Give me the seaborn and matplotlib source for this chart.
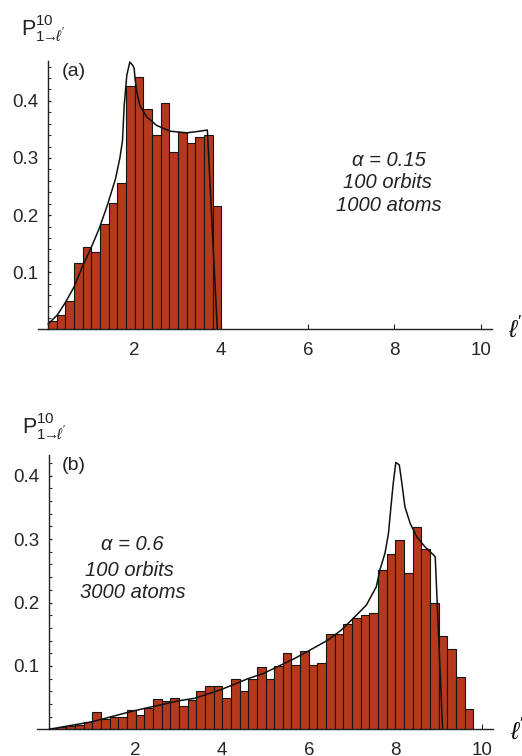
import numpy as np
import pandas as pd
import matplotlib
matplotlib.use("Agg")
import matplotlib.pyplot as plt
from matplotlib.ticker import MultipleLocator
import seaborn as sns

# ---------------- data ----------------
bin_width = 0.2

# panel (a): alpha = 0.15
a_heights = [0.015, 0.025, 0.050, 0.116, 0.145, 0.135, 0.185, 0.221, 0.256, 0.426,
             0.441, 0.386, 0.340, 0.396, 0.311, 0.345, 0.326, 0.336, 0.341, 0.216]
a_curve_x = [0.0, 0.215, 0.41, 0.60, 0.79, 0.985, 1.18, 1.37, 1.56, 1.66, 1.72, 1.76,
             1.82, 1.89, 1.96, 1.99, 2.01, 2.05, 2.12, 2.28, 2.51, 2.82, 3.20, 3.51,
             3.68, 3.91]
a_curve_y = [0.009, 0.025, 0.048, 0.074, 0.109, 0.141, 0.176, 0.217, 0.264, 0.300,
             0.330, 0.392, 0.445, 0.468, 0.462, 0.457, 0.439, 0.416, 0.392, 0.372,
             0.357, 0.347, 0.344, 0.347, 0.349, 0.0]

# panel (b): alpha = 0.6
b_heights = [0.002, 0.004, 0.005, 0.007, 0.012, 0.028, 0.016, 0.019, 0.020, 0.030,
             0.023, 0.033, 0.048, 0.045, 0.050, 0.037, 0.046, 0.061, 0.068, 0.068,
             0.050, 0.079, 0.061, 0.079, 0.099, 0.079, 0.100, 0.120, 0.102, 0.123,
             0.101, 0.104, 0.150, 0.150, 0.166, 0.176, 0.180, 0.184, 0.252, 0.277,
             0.298, 0.247, 0.319, 0.285, 0.199, 0.147, 0.127, 0.082, 0.032]
b_curve_x = [0.0, 1.0, 1.95, 3.0, 3.37, 3.95, 4.6, 4.95, 5.68, 5.95, 6.45, 6.76, 7.07,
             7.33, 7.56, 7.64, 7.76, 7.84, 7.89, 7.95, 8.01, 8.09, 8.15, 8.22, 8.34,
             8.49, 8.68, 8.88, 8.92, 9.09]
b_curve_y = [0.0, 0.012, 0.029, 0.045, 0.049, 0.062, 0.080, 0.088, 0.112, 0.122,
             0.141, 0.157, 0.178, 0.196, 0.225, 0.251, 0.278, 0.309, 0.346, 0.388,
             0.421, 0.417, 0.388, 0.351, 0.325, 0.304, 0.288, 0.275, 0.272, 0.0]

x_ticks = [2, 4, 6, 8, 10]
y_ticks = [0.1, 0.2, 0.3, 0.4]
texts_a = ["\u03b1 = 0.15", "100 orbits", "1000 atoms"]
texts_b = ["\u03b1 = 0.6", "100 orbits", "3000 atoms"]

# ---------------- style ----------------
sns.set_style("ticks")
plt.rcParams["font.family"] = ["Liberation Sans", "DejaVu Sans"]
plt.rcParams["mathtext.fontset"] = "custom"
plt.rcParams["mathtext.rm"] = "Liberation Sans"
plt.rcParams["mathtext.it"] = "Liberation Sans:italic"
plt.rcParams["mathtext.fallback"] = "stixsans"

BAR = "#b5391c"
W, H = 522, 756
fig = plt.figure(figsize=(W / 100, H / 100), dpi=100)


def px_axes(x0_px, unit_px_x, xlim, base_px, unit_px_y, ylim):
    left = x0_px + xlim[0] * unit_px_x
    width = (xlim[1] - xlim[0]) * unit_px_x
    height = (ylim[1] - ylim[0]) * unit_px_y
    bottom = H - base_px
    return fig.add_axes([left / W, bottom / H, width / W, height / H])


def draw_panel(ax, heights, cx, cy, xlim, ylim):
    n = len(heights)
    centers = (np.arange(n) + 0.5) * bin_width
    df = pd.DataFrame({"l": centers, "p": heights})
    sns.histplot(data=df, x="l", weights="p", binwidth=bin_width,
                 binrange=(0, n * bin_width), stat="count",
                 color=BAR, edgecolor="#151515", linewidth=0.8, alpha=1.0, ax=ax)
    cdf = pd.DataFrame({"l": cx, "p": cy})
    sns.lineplot(data=cdf, x="l", y="p", sort=False, color="#111111",
                 linewidth=1.1, ax=ax, clip_on=False)
    ax.set_xlim(*xlim)
    ax.set_ylim(*ylim)
    ax.set_xlabel("")
    ax.set_ylabel("")
    for s in ["top", "right"]:
        ax.spines[s].set_visible(False)
    ax.spines["left"].set_position(("data", 0))
    for s in ["left", "bottom"]:
        ax.spines[s].set_color("#222222")
        ax.spines[s].set_linewidth(1.0)
    ax.set_xticks(x_ticks)
    ax.set_yticks(y_ticks)
    ax.set_yticklabels(["0.1", "0.2", "0.3", "0.4"])
    ax.yaxis.set_minor_locator(MultipleLocator(0.02))
    ax.tick_params(axis="x", direction="in", length=3.5, width=0.8,
                   labelsize=13.5, pad=9, color="#222222")
    ax.tick_params(axis="y", which="major", direction="in", length=2.5,
                   width=0.9, labelsize=13.5, pad=7, color="#222222")
    ax.tick_params(axis="y", which="minor", direction="in", length=2.2,
                   width=0.8, color="#333333")
    ax.set_facecolor("white")


# panel (a)
ax_a = px_axes(48, 43.3, (-0.23, 10.25), 329.3, 571, (0, 0.47))
draw_panel(ax_a, a_heights, a_curve_x, a_curve_y, (-0.23, 10.25), (0, 0.47))

# panel (b)
ax_b = px_axes(49, 43.3, (-0.27, 10.25), 729.3, 634, (0, 0.433))
draw_panel(ax_b, b_heights, b_curve_x, b_curve_y, (-0.27, 10.25), (0, 0.433))


def ftext(xp, yp, s, **kw):
    fig.text(xp / W, 1 - yp / H, s, **kw)


ylab = r"$\mathrm{P}^{10}_{1\!\!\rightarrow\!\!\ell'}$"
ftext(21, 35, ylab, fontsize=15.5, ha="left", va="baseline", color="#222222")
ftext(22, 433, ylab, fontsize=15.5, ha="left", va="baseline", color="#222222")

ftext(73.5, 71.5, "(a)", fontsize=14, ha="center", va="center", color="#222222")
ftext(73.5, 466, "(b)", fontsize=14, ha="center", va="center", color="#222222")

for t, (xp, yp) in zip(texts_a, [(389, 160), (387, 183), (388.5, 205.5)]):
    ftext(xp, yp, t, fontsize=14.5, style="italic", ha="center", va="center",
          color="#222222")
for t, (xp, yp) in zip(texts_b, [(132, 544), (129, 570), (132.5, 593)]):
    ftext(xp, yp, t, fontsize=14.5, style="italic", ha="center", va="center",
          color="#222222")

ftext(515, 329, r"$\ell'$", fontsize=18, ha="center", va="center", color="#111111")
ftext(517, 731, r"$\ell'$", fontsize=18, ha="center", va="center", color="#111111")

fig.savefig("out.png", dpi=100, facecolor="white")
